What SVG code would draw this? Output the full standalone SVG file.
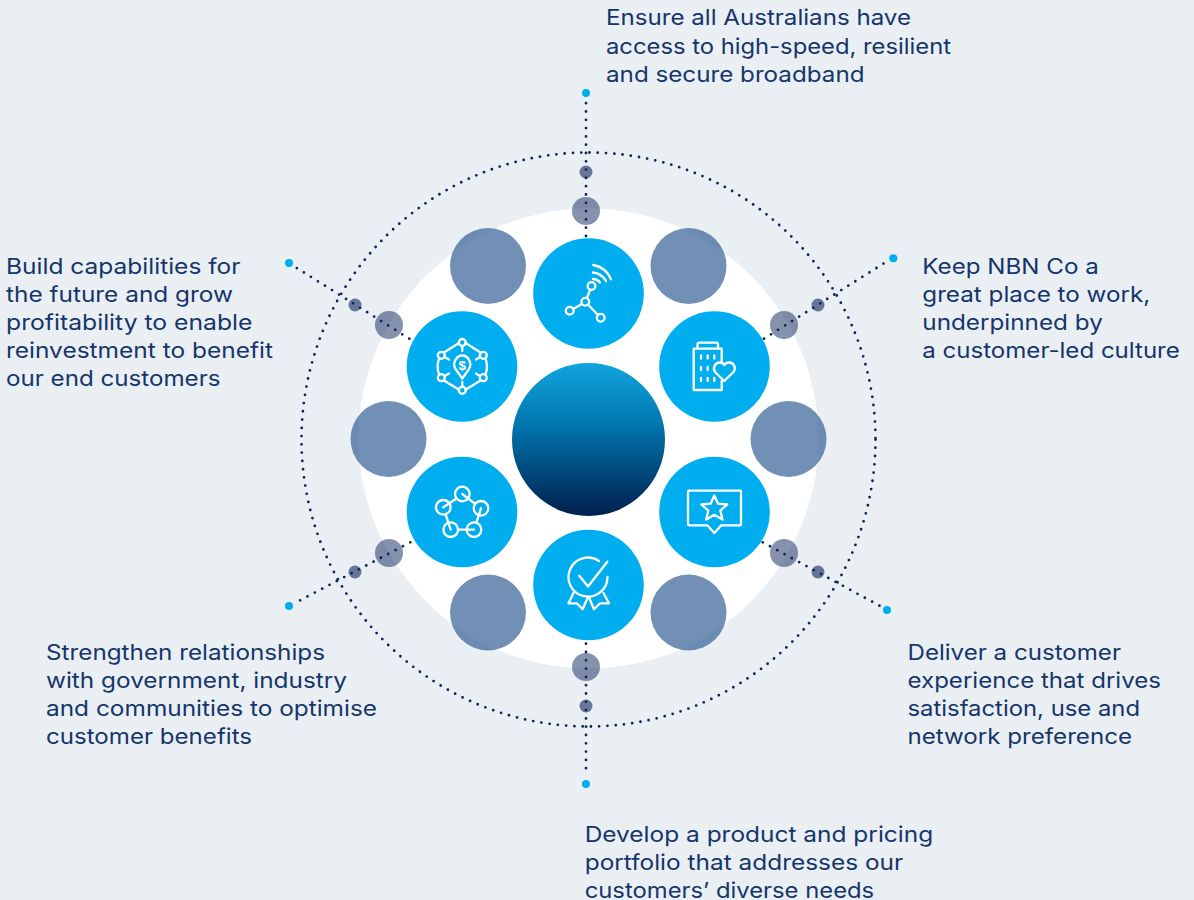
<svg xmlns="http://www.w3.org/2000/svg" width="1194" height="900" viewBox="0 0 1194 900">
<style>
.t{font-family:"Inter","Liberation Sans",sans-serif;font-size:21.5px;fill:#16356a}
.n{fill:#00aeef}
.g{fill:#2c5a91;fill-opacity:.67}
.s{fill:#172c60;fill-opacity:.52}
.x{fill:#172c60;fill-opacity:.62}
.e{fill:#00aeef}
.d{fill:none;stroke:#0b2556;stroke-width:2.8;stroke-linecap:round;stroke-dasharray:0 8.3}
.i{fill:none;stroke:#fff;stroke-width:2.3;stroke-linecap:round;stroke-linejoin:round}
</style>
<defs><linearGradient id="cg" x1="0" y1="0" x2="0" y2="1"><stop offset="0" stop-color="#12a5de"/><stop offset=".4" stop-color="#0076ae"/><stop offset="1" stop-color="#001f4e"/></linearGradient></defs>
<rect width="1194" height="900" fill="#eaeff4"/>
<circle id="disc" cx="588.5" cy="438.5" r="230" fill="#fff"/>
<g id="big-dots"><circle class="g" cx="488" cy="266" r="38"/><circle class="g" cx="688.5" cy="266" r="38"/><circle class="g" cx="388.5" cy="439" r="38"/><circle class="g" cx="788.5" cy="439" r="38"/><circle class="g" cx="488" cy="612.5" r="38"/><circle class="g" cx="688.5" cy="612.5" r="38"/></g>
<g id="small-dots"><circle class="s" cx="586" cy="211" r="14"/><circle class="x" cx="586" cy="172" r="6.5"/><circle class="s" cx="389" cy="325" r="14"/><circle class="x" cx="355" cy="305" r="6.5"/><circle class="s" cx="784" cy="325" r="14"/><circle class="x" cx="818" cy="305" r="6.5"/><circle class="s" cx="784" cy="553" r="14"/><circle class="x" cx="818" cy="572" r="6.5"/><circle class="s" cx="389" cy="553" r="14"/><circle class="x" cx="355" cy="572" r="6.5"/><circle class="s" cx="586" cy="667" r="14"/><circle class="x" cx="586" cy="706" r="6.5"/></g>
<g id="connectors">
<circle class="d" cx="588.5" cy="439.5" r="287"/>
<path class="d" d="M586 236V101"/><path class="d" d="M764 338.7L886 262"/><path class="d" d="M762.7 542.3L880 606"/><path class="d" d="M586 643.7V776"/><path class="d" d="M410.3 542.3L296 602.5"/><path class="d" d="M409.3 338.7L296 267.5"/>
<circle class="e" cx="586" cy="93" r="4"/><circle class="e" cx="893.3" cy="258.3" r="4"/><circle class="e" cx="887" cy="610" r="4"/><circle class="e" cx="586" cy="784" r="4"/><circle class="e" cx="289" cy="606" r="4"/><circle class="e" cx="289" cy="263" r="4"/>
</g>
<circle id="centre" cx="588.5" cy="439.5" r="76.5" fill="url(#cg)"/>
<g id="node-network"><circle class="n" cx="588.5" cy="293.5" r="55.3"/>
<g class="i"><circle cx="585.3" cy="301.7" r="3.9"/><circle cx="591.5" cy="286" r="3.9"/><circle cx="569.7" cy="310.7" r="3.9"/><circle cx="600.7" cy="317.7" r="3.9"/><path d="M587 298L590 289.8M582 304L573 309M588 304.5L598 315M593.3 265A24 24 0 0 1 611 279.3M593 272.5A17 17 0 0 1 606 281M593 279A9 9 0 0 1 600 282.5"/></g></g>
<g id="node-culture"><circle class="n" cx="714.5" cy="366.5" r="55.3"/>
<g class="i"><path d="M721.7 362V348.7H693.7V390H721.7V381M697.5 348.7V344.5Q697.5 342.7 699.5 342.7H716Q718 342.7 718 344.5V348.7"/><path d="M701 355.5v3M707.7 355.5v3M714.3 355.5v3M701 367v3M707.7 367v3M701 378v3M707.7 378v3M714.3 378v3"/><path d="M724.3 381L715.5 372.5C712 368.5 715 362.5 720 362.5C722 362.5 723.5 363.5 724.3 365C725.2 363.5 726.8 362.5 729 362.5C734 362.5 737 368.5 733 372.5Z"/></g></g>
<g id="node-experience"><circle class="n" cx="714.5" cy="512" r="55.3"/>
<g class="i"><path d="M688 491.7Q688 490.7 689 490.7H740Q741 490.7 741 491.7V524.3Q741 525.3 740 525.3H721.3L714.3 533L707.3 525.3H689Q688 525.3 688 524.3Z"/><path d="M714.3 495.5L718 503.7L727.3 504.5L720.3 510.5L722.5 519.5L714.3 514.8L706.2 519.5L708.3 510.5L701.3 504.5L710.6 503.7Z"/></g></g>
<g id="node-product"><circle class="n" cx="588.5" cy="585" r="55.3"/>
<g class="i"><path d="M599 561A19.5 19.5 0 1 0 607.5 577"/><path d="M579.3 575.7L588 586.5L607.3 561.7"/><path d="M573.5 593L568.5 603.3H576.8L582.7 609.3L587.7 597.5M603.5 593L609 603.3H600L594 609.3L589 597.5"/></g></g>
<g id="node-relationships"><circle class="n" cx="462" cy="512" r="55.3"/>
<g class="i"><circle cx="462.3" cy="494" r="7.3"/><circle cx="481" cy="508.3" r="7.3"/><circle cx="474" cy="529.7" r="7.3"/><circle cx="450.7" cy="529.7" r="7.3"/><circle cx="443.3" cy="507.3" r="7.3"/><path d="M462.3 494L475.2 503.9M481 508.3L476.3 522.8M458 529.7H474M445.6 514.3L450.7 529.7M456.5 498.5L443.3 507.3"/></g></g>
<g id="node-capabilities"><circle class="n" cx="462" cy="366.5" r="55.3"/>
<g class="i"><circle cx="462.3" cy="342.5" r="3.5"/><circle cx="483.3" cy="355.3" r="3.5"/><circle cx="483.3" cy="377.7" r="3.5"/><circle cx="462.3" cy="390.3" r="3.5"/><circle cx="441.3" cy="377.7" r="3.5"/><circle cx="441.3" cy="355.3" r="3.5"/><path d="M465.5 343L480.5 352.5M485.7 359A24 24 0 0 1 485.7 374M480.5 380.5L465.5 389.7M459 389.7L444 380.5M438.9 374A24 24 0 0 1 438.9 359M444 352.5L459 343M462.3 346V351M480 357L476 359.5M480 376L476 373.5M444.5 376L449 373.5M444.5 357L449 359.5M462.3 387V382"/><path d="M462.3 378.5L455.5 369C452 363 456.5 355.5 462.3 355.5C468 355.5 472.5 363 469 369Z"/></g>
<text x="462.3" y="370" text-anchor="middle" font-family="'Liberation Sans',sans-serif" font-size="13.5" font-weight="700" fill="#fff">$</text></g>
<g id="labels">
<text class="t" lengthAdjust="spacingAndGlyphs" x="606" y="25" textLength="305">Ensure all Australians have</text><text class="t" lengthAdjust="spacingAndGlyphs" x="606" y="54" textLength="345">access to high-speed, resilient</text><text class="t" lengthAdjust="spacingAndGlyphs" x="606" y="82" textLength="258.5">and secure broadband</text>
<text class="t" lengthAdjust="spacingAndGlyphs" x="922.3" y="274" textLength="176.5">Keep NBN Co a</text><text class="t" lengthAdjust="spacingAndGlyphs" x="922.3" y="302" textLength="228">great place to work,</text><text class="t" lengthAdjust="spacingAndGlyphs" x="922.3" y="330" textLength="180.5">underpinned by</text><text class="t" lengthAdjust="spacingAndGlyphs" x="922.3" y="358" textLength="257.5">a customer-led culture</text>
<text class="t" lengthAdjust="spacingAndGlyphs" x="907.5" y="660" textLength="213.5">Deliver a customer</text><text class="t" lengthAdjust="spacingAndGlyphs" x="907.5" y="688" textLength="253.5">experience that drives</text><text class="t" lengthAdjust="spacingAndGlyphs" x="907.5" y="716" textLength="232.5">satisfaction, use and</text><text class="t" lengthAdjust="spacingAndGlyphs" x="907.5" y="744" textLength="224.5">network preference</text>
<text class="t" lengthAdjust="spacingAndGlyphs" x="584.7" y="842" textLength="348.5">Develop a product and pricing</text><text class="t" lengthAdjust="spacingAndGlyphs" x="584.7" y="870" textLength="318.5">portfolio that addresses our</text><text class="t" lengthAdjust="spacingAndGlyphs" x="584.7" y="898" textLength="289.5">customers’ diverse needs</text>
<text class="t" lengthAdjust="spacingAndGlyphs" x="46" y="660" textLength="279">Strengthen relationships</text><text class="t" lengthAdjust="spacingAndGlyphs" x="46" y="688" textLength="301">with government, industry</text><text class="t" lengthAdjust="spacingAndGlyphs" x="46" y="716" textLength="331">and communities to optimise</text><text class="t" lengthAdjust="spacingAndGlyphs" x="46" y="744" textLength="206">customer benefits</text>
<text class="t" lengthAdjust="spacingAndGlyphs" x="6" y="274" textLength="234.5">Build capabilities for</text><text class="t" lengthAdjust="spacingAndGlyphs" x="6" y="302" textLength="227">the future and grow</text><text class="t" lengthAdjust="spacingAndGlyphs" x="6" y="330" textLength="246.5">profitability to enable</text><text class="t" lengthAdjust="spacingAndGlyphs" x="6" y="358" textLength="267">reinvestment to benefit</text><text class="t" lengthAdjust="spacingAndGlyphs" x="6" y="386" textLength="214.5">our end customers</text>
</g>
</svg>
